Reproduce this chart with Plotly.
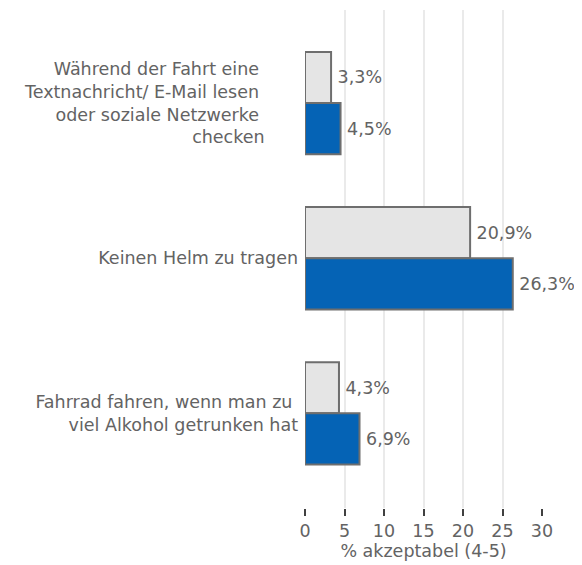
import plotly.graph_objects as go

NB = "\u00a0"
categories = [
    "Während der Fahrt eine" + NB * 7 + "<br>Textnachricht/ E-Mail lesen" + NB * 7 + "<br>oder soziale Netzwerke" + NB * 7 + "<br>checken" + NB * 6,
    "Keinen Helm zu tragen",
    "Fahrrad fahren, wenn man zu" + NB + "<br>viel Alkohol getrunken hat",
]
series_a = [3.3, 20.9, 4.3]
series_b = [4.5, 26.3, 6.9]
labels_a = ["3,3%", "20,9%", "4,3%"]
labels_b = ["4,5%", "26,3%", "6,9%"]
x_ticks = [0, 5, 10, 15, 20, 25, 30]

FONT = "DejaVu Sans"
TXT = "#636363"
FS = 17.5

fig = go.Figure()
fig.add_trace(go.Bar(
    y=categories, x=series_a, orientation="h", text=labels_a,
    texttemplate="\u2009%{text}",
    textposition="outside", cliponaxis=False,
    textfont=dict(family=FONT, size=FS, color=TXT),
    marker=dict(color="#E5E5E5", line=dict(color="#6E6E6E", width=2)),
    showlegend=False,
))
fig.add_trace(go.Bar(
    y=categories, x=series_b, orientation="h", text=labels_b,
    texttemplate="\u2009%{text}",
    textposition="outside", cliponaxis=False,
    textfont=dict(family=FONT, size=FS, color=TXT),
    marker=dict(color="#0563B5", line=dict(color="#6E6E6E", width=2)),
    showlegend=False,
))

fig.update_layout(
    width=574, height=557,
    margin=dict(l=297, r=40, t=2, b=57, autoexpand=False),
    barmode="group", bargap=0.34, bargroupgap=0,
    plot_bgcolor="white", paper_bgcolor="white",
    font=dict(family=FONT, size=FS, color=TXT),
    xaxis=dict(
        range=[0, 30], tickvals=x_ticks, ticktext=[str(v) for v in x_ticks],
        showgrid=True, gridcolor="#EAEAEA", gridwidth=2,
        zeroline=False, showline=False,
        ticks="outside", ticklen=7, tickwidth=2, tickcolor="#404040",
        tickfont=dict(family=FONT, size=FS, color=TXT),
        title=dict(text="% akzeptabel (4-5)", font=dict(family=FONT, size=FS, color=TXT), standoff=2),
    ),
    yaxis=dict(
        type="category", range=[2.61, -0.6],
        showgrid=False, zeroline=False, showline=False, ticks="",
        tickfont=dict(family=FONT, size=FS, color=TXT),
        ticklabelstandoff=6,
    ),
)

fig.write_html("out.html")
